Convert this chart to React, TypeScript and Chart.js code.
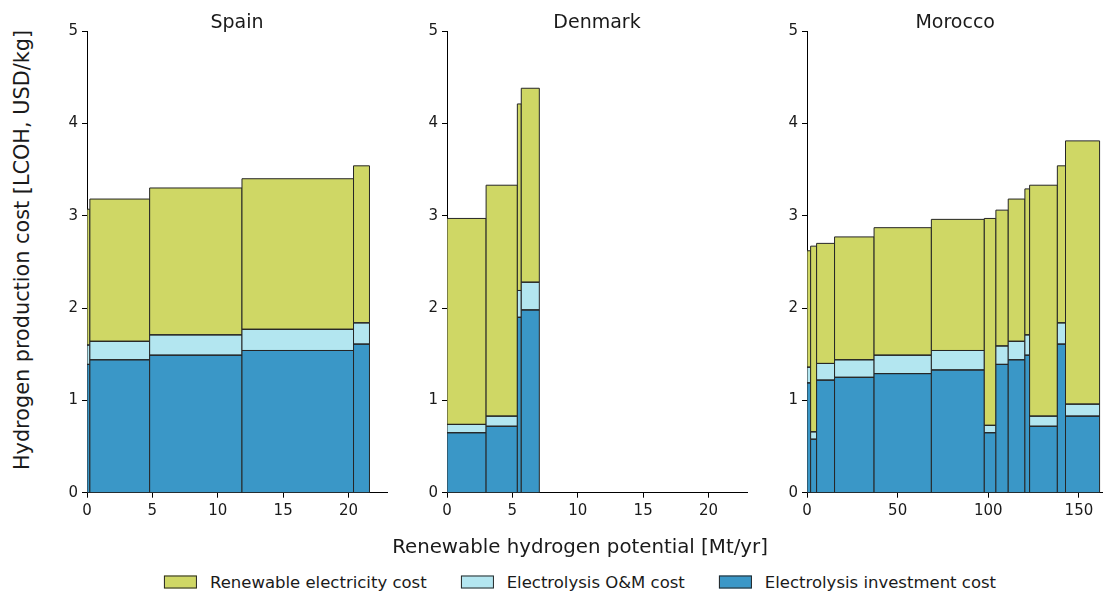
import React, { useEffect, useRef } from "react";
import { Chart, registerables } from "chart.js";

Chart.register(...registerables);

// ---------- data ----------
const layerNames = ["Electrolysis investment cost", "Electrolysis O&M cost", "Renewable electricity cost"];
const layerColors = ["#3a97c7", "#b3e6f0", "#cfd765"];
const edgeColor = "#262626";
const yTicks = [0, 1, 2, 3, 4, 5];

// Spain: bar edges along the cumulative potential axis [Mt/yr] and cost components [USD/kg]
const spainEdges = [0, 0.22, 4.79, 11.85, 20.38, 21.6];
const spainInvestment = [1.39, 1.44, 1.49, 1.54, 1.61];
const spainOM = [0.21, 0.2, 0.22, 0.23, 0.23];
const spainElectricity = [1.47, 1.54, 1.59, 1.63, 1.7];

// Denmark
const denmarkEdges = [0, 2.99, 5.38, 5.68, 7.06];
const denmarkInvestment = [0.65, 0.72, 1.9, 1.98];
const denmarkOM = [0.09, 0.11, 0.29, 0.3];
const denmarkElectricity = [2.23, 2.5, 2.02, 2.1];

// Morocco
const moroccoEdges = [0, 2.0, 5.3, 15.2, 37.0, 68.6, 97.8, 104.2, 111.0, 120.2, 122.8, 138.1, 142.6, 161.4];
const moroccoInvestment = [1.19, 0.58, 1.22, 1.25, 1.29, 1.33, 0.65, 1.39, 1.44, 1.49, 0.72, 1.61, 0.83];
const moroccoOM = [0.17, 0.08, 0.18, 0.19, 0.2, 0.21, 0.08, 0.2, 0.2, 0.22, 0.11, 0.23, 0.13];
const moroccoElectricity = [1.26, 2.01, 1.3, 1.33, 1.38, 1.42, 2.24, 1.47, 1.54, 1.58, 2.5, 1.7, 2.85];

// ---------- layout ----------
const FONT = '"DejaVu Sans", "Noto Sans", sans-serif';
const TEXT = "#1a1a1a";
const CANVAS_H = 531;
const Y_AXIS_W = 50;
const X_AXIS_H = 38.3;
const TITLE_H = 31;

type PanelCfg = {
  title: string;
  edges: number[];
  layers: number[][];
  xMax: number;
  xStep: number;
  plotLeft: number;
  plotWidth: number;
};

const panels: PanelCfg[] = [
  {
    title: "Spain",
    edges: spainEdges,
    layers: [spainInvestment, spainOM, spainElectricity],
    xMax: 22.94,
    xStep: 5,
    plotLeft: 86.7,
    plotWidth: 300,
  },
  {
    title: "Denmark",
    edges: denmarkEdges,
    layers: [denmarkInvestment, denmarkOM, denmarkElectricity],
    xMax: 22.94,
    xStep: 5,
    plotLeft: 446.7,
    plotWidth: 300,
  },
  {
    title: "Morocco",
    edges: moroccoEdges,
    layers: [moroccoInvestment, moroccoOM, moroccoElectricity],
    xMax: 163.5,
    xStep: 50,
    plotLeft: 806.7,
    plotWidth: 296.4,
  },
];

function buildDatasets(edges: number[], layers: number[][]) {
  const ds: any[] = [];
  for (let i = 0; i < edges.length - 1; i++) {
    const x0 = edges[i];
    const x1 = edges[i + 1];
    let base = 0;
    layers.forEach((layer, li) => {
      const top = base + layer[i];
      ds.push({
        label: layerNames[li],
        data: [
          { x: x0, y: base },
          { x: x1, y: base },
          { x: x1, y: top },
          { x: x0, y: top },
          { x: x0, y: base },
          { x: x1, y: base },
        ],
        backgroundColor: layerColors[li],
        borderColor: edgeColor,
        borderWidth: 1,
        fill: "shape",
        pointRadius: 0,
        pointHoverRadius: 0,
        stepped: true,
        tension: 0,
      });
      base = top;
    });
  }
  return ds.reverse();
}

function PanelChart({ cfg }: { cfg: PanelCfg }) {
  const ref = useRef<HTMLCanvasElement | null>(null);
  const rightPad = 15;
  const width = Math.ceil(Y_AXIS_W + cfg.plotWidth + rightPad);
  const padRight = width - Y_AXIS_W - cfg.plotWidth;

  useEffect(() => {
    if (!ref.current) return;
    const tickFont = { family: FONT, size: 15 };
    const chart = new Chart(ref.current, {
      type: "line",
      data: { datasets: buildDatasets(cfg.edges, cfg.layers) },
      options: {
        animation: false,
        responsive: false,
        events: [],
        layout: { padding: { left: 0, right: padRight, top: 0, bottom: 0 } },
        plugins: {
          legend: { display: false },
          tooltip: { enabled: false },
          title: {
            display: true,
            text: cfg.title,
            fullSize: false,
            color: TEXT,
            font: { family: FONT, size: 19, weight: "normal", lineHeight: 1.2 },
            padding: { top: TITLE_H - 22.8 + 3, bottom: -3 },
          },
        },
        scales: {
          x: {
            type: "linear",
            min: 0,
            max: cfg.xMax,
            bounds: "data",
            grid: { display: true, drawOnChartArea: false, drawTicks: true, tickLength: 5, color: "#000", lineWidth: 1 },
            border: { display: true, color: "#000", width: 1 },
            ticks: { stepSize: cfg.xStep, includeBounds: false, font: tickFont, color: TEXT, padding: 4, maxRotation: 0 },
            afterFit: (s: any) => {
              s.height = X_AXIS_H;
            },
          },
          y: {
            type: "linear",
            min: 0,
            max: 5,
            bounds: "data",
            grid: { display: true, drawOnChartArea: false, drawTicks: true, tickLength: 5, color: "#000", lineWidth: 1 },
            border: { display: true, color: "#000", width: 1 },
            afterBuildTicks: (s: any) => {
              s.ticks = yTicks.map((v) => ({ value: v }));
            },
            ticks: { font: tickFont, color: TEXT, padding: 4 },
            afterFit: (s: any) => {
              s.width = Y_AXIS_W;
            },
          },
        },
      } as any,
    });
    return () => chart.destroy();
  }, [cfg]);

  return (
    <canvas
      ref={ref}
      width={width}
      height={CANVAS_H}
      style={{ position: "absolute", left: cfg.plotLeft - Y_AXIS_W, top: 0, width, height: CANVAS_H }}
    />
  );
}

const legendItems = [
  { label: "Renewable electricity cost", color: layerColors[2] },
  { label: "Electrolysis O&M cost", color: layerColors[1] },
  { label: "Electrolysis investment cost", color: layerColors[0] },
];

export default function App() {
  return (
    <div
      style={{
        position: "fixed",
        left: 0,
        top: 0,
        width: 1103,
        height: 591,
        overflow: "hidden",
        background: "#fff",
        fontFamily: FONT,
        color: TEXT,
      }}
    >
      {panels.map((p) => (
        <PanelChart key={p.title} cfg={p} />
      ))}
      <div
        style={{
          position: "absolute",
          left: 22,
          top: 250,
          transform: "translate(-50%, -50%) rotate(-90deg)",
          whiteSpace: "nowrap",
          fontSize: 20.8,
        }}
      >
        Hydrogen production cost [LCOH, USD/kg]
      </div>
      <div
        style={{
          position: "absolute",
          left: 580,
          top: 546,
          transform: "translate(-50%, -50%)",
          whiteSpace: "nowrap",
          fontSize: 19.8,
        }}
      >
        Renewable hydrogen potential [Mt/yr]
      </div>
      <div
        style={{
          position: "absolute",
          left: 580,
          top: 582,
          transform: "translate(-50%, -50%)",
          display: "flex",
          alignItems: "center",
          whiteSpace: "nowrap",
          fontSize: 16.5,
        }}
      >
        {legendItems.map((it, i) => (
          <div key={it.label} style={{ display: "flex", alignItems: "center", marginLeft: i === 0 ? 0 : 34 }}>
            <span
              style={{
                display: "inline-block",
                width: 31,
                height: 11,
                background: it.color,
                border: "1px solid #262626",
                marginRight: 13,
              }}
            />
            <span>{it.label}</span>
          </div>
        ))}
      </div>
    </div>
  );
}
